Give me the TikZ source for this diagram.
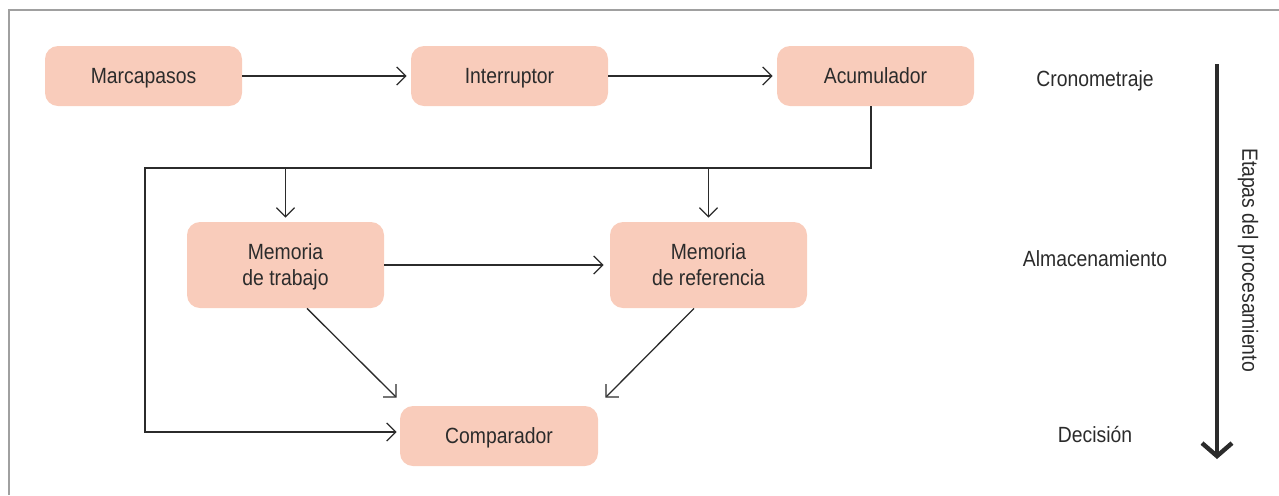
\documentclass[tikz,border=0pt]{standalone}
\usepackage{fontspec}
\setmainfont{Liberation Sans}[FakeStretch=0.88]
\usetikzlibrary{arrows.meta}
\definecolor{boxfill}{HTML}{F9CCBB}
\definecolor{ink}{HTML}{2B2B2B}
\definecolor{framegray}{HTML}{A0A0A0}
\begin{document}
\begin{tikzpicture}[x=0.5pt,y=-0.5pt,
  stage/.style={fill=boxfill,draw=none,rounded corners=6.5pt,minimum width=98.5pt,minimum height=30pt,
     inner sep=0pt,align=center,text=ink,text depth=0pt,font=\fontsize{11}{13}\selectfont},
  tall/.style={stage,minimum height=43pt},
  arr/.style={draw=ink,line width=0.65pt,-{Straight Barb[length=4.5pt,width=9pt]}},
  conn/.style={draw=ink,line width=0.65pt},
  lbl/.style={text=ink,font=\fontsize{11}{13}\selectfont,inner sep=0pt}]
\useasboundingbox (0,0) rectangle (1279,495);
\draw[framegray,line width=0.75pt] (9,495) -- (9,10) -- (1279,10);

\node[stage] (marc) at (143.5,76) {Marcapasos};
\node[stage] (intr) at (509.5,76) {Interruptor};
\node[stage] (acum) at (875.5,76) {Acumulador};
\node[tall] (memt) at (285.5,265) {Memoria\\de trabajo};
\node[tall] (memr) at (708.5,265) {Memoria\\de referencia};
\node[stage,minimum width=99pt] (comp) at (499,436) {Comparador};

\coordinate (j1) at (871,168);
\coordinate (j2) at (145,168);

\draw[arr,shorten >=2pt] (marc) -- (intr);
\draw[arr,shorten >=2pt] (intr) -- (acum);
\draw[conn] (acum.south -| j1) -- (j1) -- (j2) |- ([yshift=2pt,xshift=-2pt]comp.west);
\draw[arr] ([yshift=2pt,xshift=-4pt]comp.west) -- ([yshift=2pt,xshift=-1.5pt]comp.west);
\draw[arr,shorten >=2pt] (memt.north |- j1) -- (memt.north);
\draw[arr,shorten >=2pt] (memr.north |- j1) -- (memr.north);
\draw[arr,shorten >=3pt] (memt) -- (memr);
\draw[arr] ([xshift=10.75pt]memt.south) -- ([shift={(-1.5pt,4pt)}]comp.north west);
\draw[arr] ([xshift=-7.25pt]memr.south) -- ([shift={(3.5pt,4pt)}]comp.north east);

\node[lbl] (l1) at (1095,81) {Cronometraje};
\node[lbl] (l2) at (1095,259) {Almacenamiento};
\node[lbl] (l3) at (1095,434) {Decisión};
\node[lbl,rotate=-90] (l4) at (1248,260) {Etapas del procesamiento};
\coordinate (a1) at (1217,64);
\coordinate (a2) at (1217,459);
\draw[draw=ink,line width=2.2pt,-{Straight Barb[length=6.5pt,width=15pt]}] (a1) -- (a2);
\end{tikzpicture}
\end{document}
